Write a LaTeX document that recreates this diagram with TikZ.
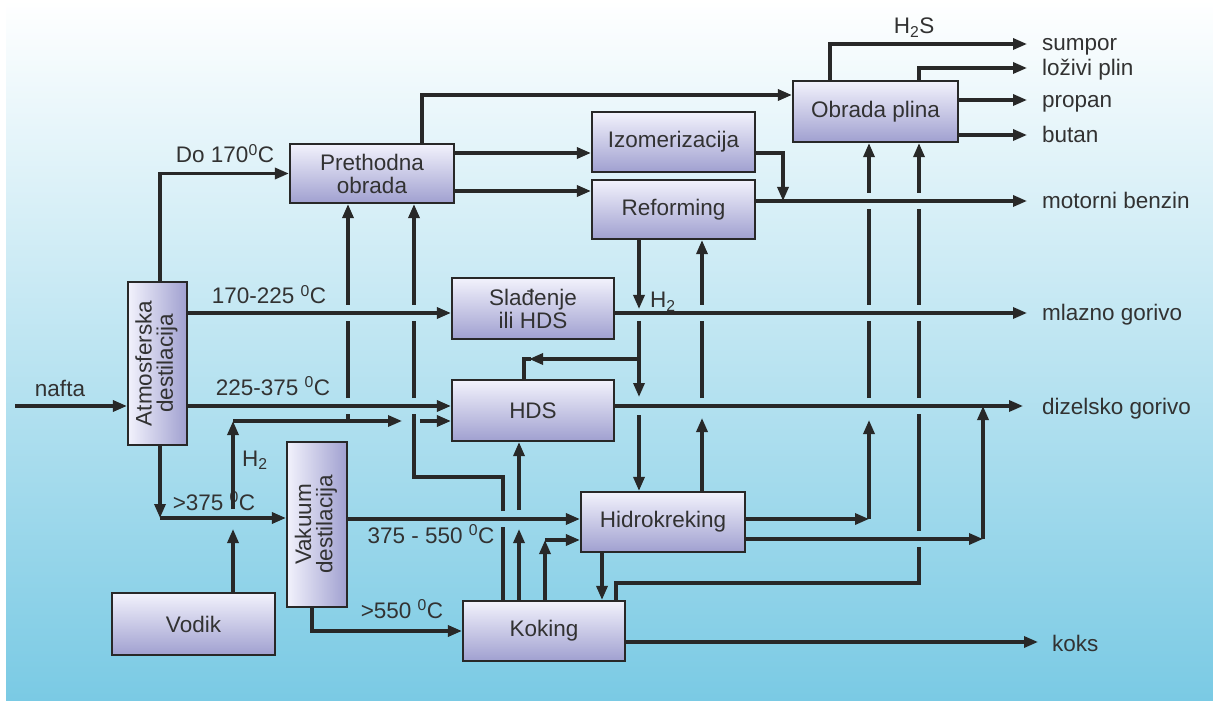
\documentclass[tikz,border=0pt]{standalone}
\usepackage{fontspec}
\usepackage{graphicx}
\setmainfont{Liberation Sans}
\usetikzlibrary{arrows.meta}
\definecolor{ln}{RGB}{40,40,40}
\definecolor{tx}{RGB}{50,50,50}
\definecolor{bxtop}{RGB}{242,242,252}
\definecolor{bxbot}{RGB}{160,160,208}
\definecolor{bgbot}{RGB}{122,202,228}
\newcommand{\vtext}[2]{\rotatebox{90}{\begin{tabular}{@{}c@{}}#1\\[-2pt]#2\end{tabular}}}
\begin{document}
\begin{tikzpicture}[x=1pt,y=-1pt,
  font=\fontsize{22.5}{23}\selectfont,
  box/.style={draw=ln, line width=2.2pt, top color=bxtop, bottom color=bxbot,
    inner sep=0pt, align=center, text=tx},
  vbox/.style={draw=ln, line width=2.2pt, left color=bxtop, right color=bxbot,
    inner sep=0pt, align=center, text=tx},
  lin/.style={draw=ln, line width=3.2pt},
  arr/.style={lin, -{Triangle[length=14pt,width=11pt]}},
  lbl/.style={text=tx, inner sep=0pt, text height=16pt, text depth=0pt},
  outlbl/.style={lbl, anchor=west}]
% background
\useasboundingbox (0,0) rectangle (1213,719);
\fill[white] (0,0) rectangle (1213,719);
\fill[top color=white, bottom color=bgbot] (6,0) rectangle (1213,700);
% boxes
\node[vbox, minimum width=59pt, minimum height=163pt] (atm) at (157.5,363.5) {\vtext{Atmosferska}{destilacija}};
\node[box, minimum width=164pt, minimum height=59pt] (pre) at (372,173.5) {Prethodna\\obrada};
\node[box, minimum width=163pt, minimum height=60pt] (izo) at (673.5,142) {Izomerizacija};
\node[box, minimum width=163pt, minimum height=59pt] (ref) at (673.5,209.5) {Reforming};
\node[box, minimum width=165pt, minimum height=61pt] (obr) at (875.5,111.5) {Obrada plina};
\node[box, minimum width=162pt, minimum height=61pt] (sla) at (533,308.5) {Slađenje\\ili HDS};
\node[box, minimum width=162pt, minimum height=61pt] (hds) at (533,410.5) {HDS};
\node[vbox, minimum width=60pt, minimum height=165pt] (vak) at (317,524.5) {\vtext{Vakuum}{destilacija}};
\node[box, minimum width=163pt, minimum height=62pt] (vod) at (193.5,624) {Vodik};
\node[box, minimum width=164pt, minimum height=60pt] (hid) at (663,522) {Hidrokreking};
\node[box, minimum width=162pt, minimum height=60pt] (kok) at (544,631) {Koking};
% nafta
\coordinate (nin) at (15,406);
\draw[arr] (nin) -- (nin -| atm.west);
\node[lbl] at (60,388) {nafta};
% Do 170
\draw[arr] (atm.north -| 160,0) |- (pre.west);
\node[lbl] at (225,155) {Do 170\textsuperscript{0}C};
% 170-225
\draw[arr] (atm.east |- 0,313) -- (sla.west |- 0,313);
\node[lbl] at (269,296) {170-225 \textsuperscript{0}C};
% 225-375
\draw[arr] (atm.east |- 0,406) -- (hds.west |- 0,406);
\node[lbl] at (273,387) {225-375 \textsuperscript{0}C};
% >375
\coordinate (k375) at (160,518);
\draw[arr] (atm.south -| k375) -- (k375);
\draw[arr] (k375) -- (k375 -| vak.west);
\node[lbl] at (214,502) {>375 \textsuperscript{0}C};
% Vodik H2
\coordinate (h2c) at (233,421);
\draw[arr] (vod.north -| h2c) -- (233,529);
\draw[arr] (233,509) -- (h2c);
\draw[arr] (h2c) -- (402,421);
\draw[arr] (420,421) -- (hds.west |- h2c);
\node[lbl, anchor=west] at (242,458) {H\textsubscript{2}};
% H2 line up to Prethodna
\draw[lin] (348,421) -- (348,414);
\draw[lin] (348,398) -- (348,321);
\draw[arr] (348,305) -- (pre.south -| 348,0);
% Koking -> Prethodna
\draw[lin] (kok.north -| 503,0) -- (503,527);
\draw[lin] (503,511) |- (414,477) -- (414,414);
\draw[lin] (414,398) -- (414,321);
\draw[arr] (414,305) -- (pre.south -| 414,0);
% Koking -> HDS
\draw[arr] (kok.north -| 519,0) -- (519,529);
\draw[arr] (519,510) -- (hds.south -| 519,0);
% Koking -> Hidrokreking
\coordinate (k545) at (545,540);
\draw[arr] (kok.north -| k545) -- (k545);
\draw[arr] (k545) -- (k545 -| hid.west);
% 375-550
\draw[arr] (vak.east |- 0,519) -- (hid.west |- 0,519);
\node[lbl] at (431,535) {375 - 550 \textsuperscript{0}C};
% >550
\draw[arr] (vak.south -| 312,0) |- (kok.west);
\node[lbl] at (402,610) {>550 \textsuperscript{0}C};
% Hidrokreking -> Koking
\draw[arr] (hid.south -| 602,0) -- (kok.north -| 602,0);
% Hidrokreking outputs
\coordinate (ho1) at (869,519);
\draw[arr] (hid.east |- ho1) -- (ho1);
\draw[arr] (ho1) -- (869,420);
\draw[lin] (869,398) -- (869,321);
\draw[lin] (869,305) -- (869,209);
\draw[arr] (869,193) -- (obr.south -| ho1);
\coordinate (ho2) at (983,539);
\draw[arr] (hid.east |- ho2) -- (ho2);
\draw[arr] (ho2) -- (983,406);
% Koking -> Obrada plina
\draw[lin] (kok.north -| 616,0) |- (919,583) -- (919,547);
\draw[lin] (919,531) -- (919,414);
\draw[lin] (919,398) -- (919,321);
\draw[lin] (919,305) -- (919,209);
\draw[arr] (919,193) -- (obr.south -| 919,0);
% Reforming H2 down
\draw[arr] (ref.south -| 639,0) -- (639,309);
\draw[arr] (639,321) -- (639,397);
\draw[arr] (639,415) -- (hid.north -| 639,0);
\draw[arr] (639,359) -- (529,359);
\draw[lin] (531,359) -| (hds.north -| 524,0);
\node[lbl, anchor=west] at (650,300) {H\textsubscript{2}};
% Hidrokreking -> Reforming
\draw[arr] (hid.north -| 702,0) -- (702,418);
\draw[lin] (702,398) -- (702,321);
\draw[arr] (702,305) -- (ref.south -| 702,0);
% Prethodna outputs
\draw[arr] (pre.east |- 0,153) -- (izo.west |- 0,153);
\draw[arr] (pre.east |- 0,191) -- (ref.west |- 0,191);
\draw[arr] (pre.north -| 422,0) |- (obr.west |- 0,95);
% Izomerizacija -> benzin
\draw[arr] (izo.east |- 0,153) -| (783,201);
% product lines
\draw[arr] (ref.east |- 0,201) -- (1027,201);
\draw[arr] (sla.east |- 0,313) -- (1027,313);
\draw[arr] (hds.east |- 0,406) -- (1023,406);
\draw[arr] (kok.east |- 0,642) -- (1038,642);
\draw[arr] (obr.north -| 830,0) |- (1027,44);
\draw[arr] (obr.north -| 919,0) |- (1027,68);
\draw[arr] (obr.east |- 0,100) -- (1027,100);
\draw[arr] (obr.east |- 0,135) -- (1027,135);
\node[lbl] at (914,26) {H\textsubscript{2}S};
% product labels
\node[outlbl] at (1042,43) {sumpor};
\node[outlbl] at (1042,68) {loživi plin};
\node[outlbl] at (1042,100) {propan};
\node[outlbl] at (1042,135) {butan};
\node[outlbl] at (1042,201) {motorni benzin};
\node[outlbl] at (1042,313) {mlazno gorivo};
\node[outlbl] at (1042,406) {dizelsko gorivo};
\node[outlbl] at (1052,643) {koks};
\end{tikzpicture}
\end{document}
